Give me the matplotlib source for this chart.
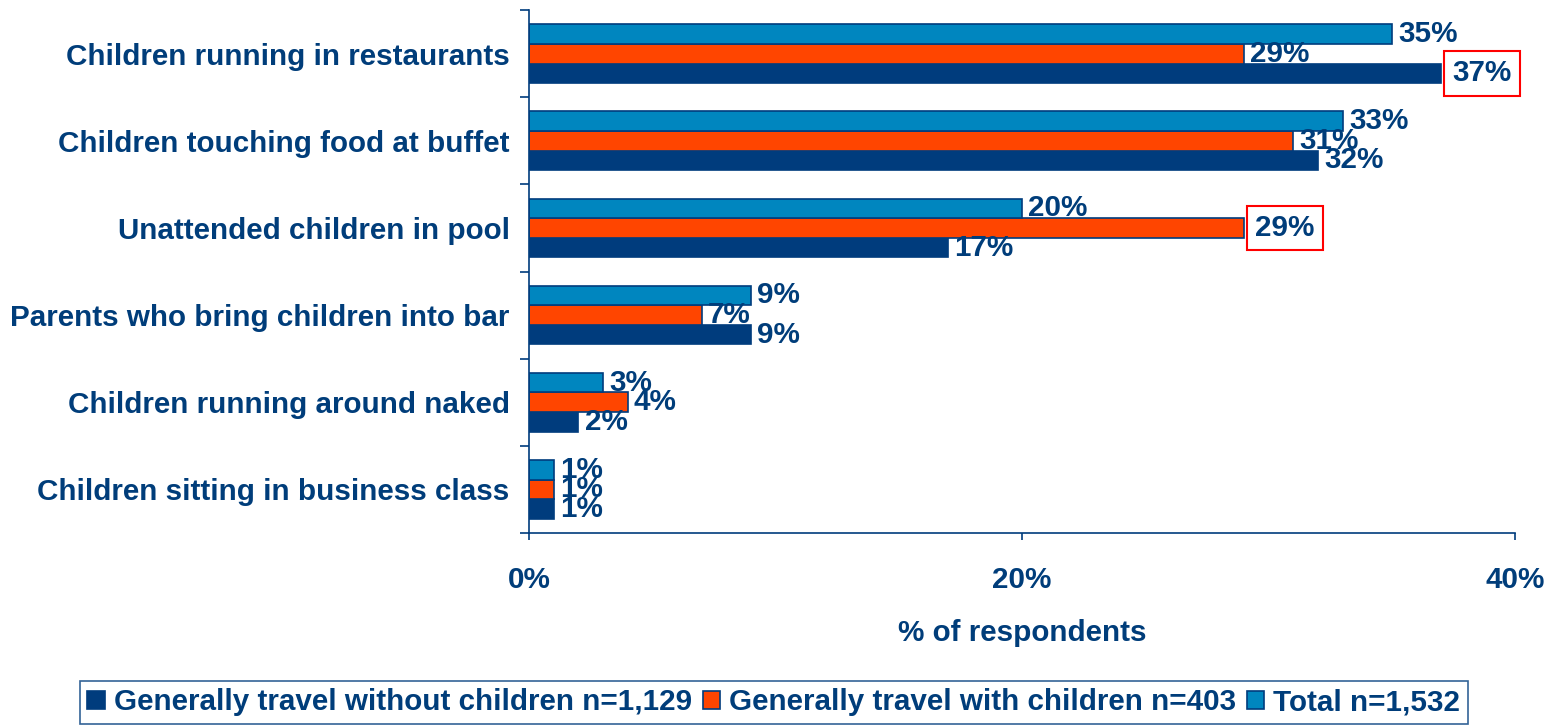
import numpy as np
import matplotlib
matplotlib.use("Agg")
import matplotlib.pyplot as plt

plt.rcParams["font.family"] = ["Liberation Sans", "DejaVu Sans"]
plt.rcParams["font.weight"] = "bold"

# Data (top to bottom)
categories = [
    "Children running in restaurants",
    "Children touching food at buffet",
    "Unattended children in pool",
    "Parents who bring children into bar",
    "Children running around naked",
    "Children sitting in business class",
]
without_children = [37, 32, 17, 9, 2, 1]
with_children = [29, 31, 29, 7, 4, 1]
total = [35, 33, 20, 9, 3, 1]

series_names = [
    "Generally travel without children n=1,129",
    "Generally travel with children n=403",
    "Total n=1,532",
]

# highlighted labels: (series index, category index)
highlighted = [(0, 0), (1, 2)]

navy = "#003C7D"
orange = "#FF4500"
light_blue = "#0086BF"
text_col = "#003D7A"
fs = 21.3

fig = plt.figure(figsize=(15.57, 7.26), dpi=100)
ax = fig.add_axes([0.3398, 0.266, 0.6334, 0.720])

y = np.arange(len(categories))
h = 0.225
series = [without_children, with_children, total]
colors = [navy, orange, light_blue]
offsets = [h, 0, -h]

for i, (vals, col, off) in enumerate(zip(series, colors, offsets)):
    bars = ax.barh(y + off, vals, height=h, color=col, edgecolor=navy,
                   linewidth=1.2, label=series_names[i])
    for j, (b, v) in enumerate(zip(bars, vals)):
        boxed = (i, j) in highlighted
        kw = {}
        dx = 4.5
        if boxed:
            kw["bbox"] = dict(boxstyle="square,pad=0.28", fc="none",
                              ec="red", lw=1.5)
            dx = 8
        ax.annotate(f"{v}%", (b.get_width(), b.get_y() + b.get_height() / 2),
                    xytext=(dx, 0), textcoords="offset points",
                    ha="left", va="center", fontsize=fs,
                    fontweight="bold", color=text_col, **kw)

ax.set_xlim(0, 40)
ax.set_ylim(len(categories) - 0.5, -0.5)
ax.set_xticks([0, 20, 40])
ax.set_xticklabels(["0%", "20%", "40%"])
ax.set_yticks(y)
ax.set_yticklabels(categories)
ax.set_yticks(np.arange(len(categories) + 1) - 0.5, minor=True)

ax.tick_params(axis="y", which="major", length=0, pad=14,
               labelsize=fs, labelcolor=text_col)
ax.tick_params(axis="y", which="minor", length=6.5, width=1.2, color=navy)
ax.tick_params(axis="x", which="major", length=5, width=1.2, color=navy,
               pad=18.5, labelsize=fs, labelcolor=text_col)

for s in ["top", "right"]:
    ax.spines[s].set_visible(False)
for s in ["left", "bottom"]:
    ax.spines[s].set_color(navy)
    ax.spines[s].set_linewidth(1.2)

ax.set_xlabel("% of respondents", fontsize=fs, fontweight="bold",
              color=text_col, labelpad=18)

handles, labels = ax.get_legend_handles_labels()
leg = fig.legend(handles, labels, loc="lower center",
                 bbox_to_anchor=(0.497, 0.003), ncol=3, frameon=True,
                 fancybox=False, fontsize=fs, handlelength=0.6,
                 handleheight=0.6, handletextpad=0.3, columnspacing=0.35,
                 borderpad=0.25, borderaxespad=0)
leg.get_frame().set_edgecolor(navy)
leg.get_frame().set_linewidth(1.2)
for t in leg.get_texts():
    t.set_color(text_col)

fig.savefig("out.png", dpi=100)
